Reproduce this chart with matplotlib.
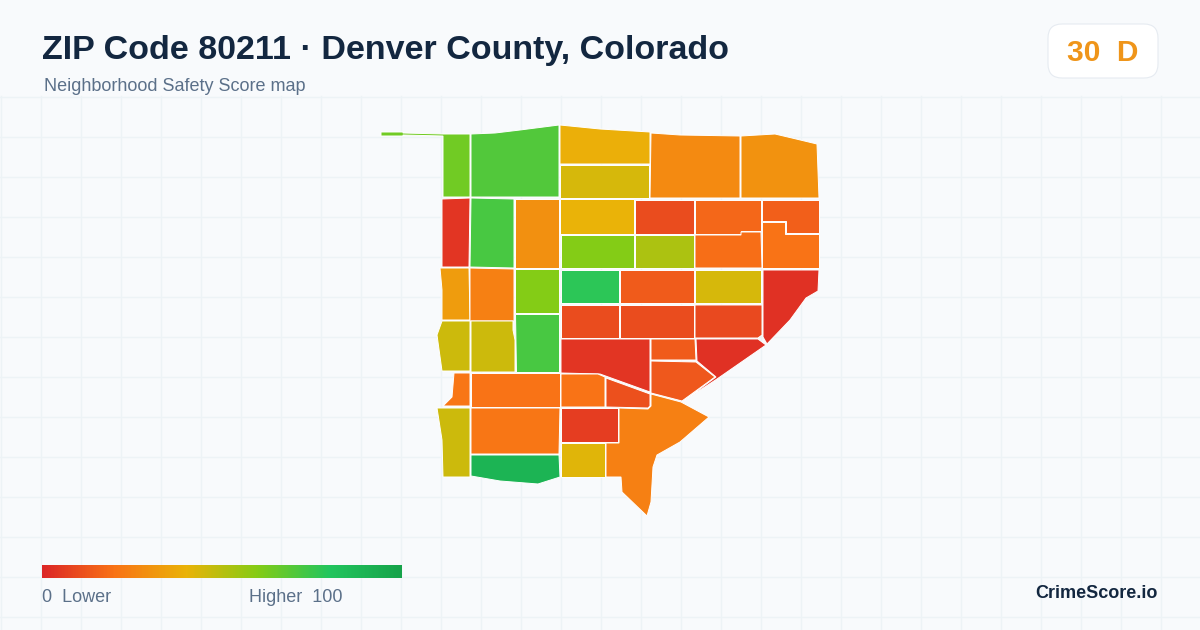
import matplotlib
matplotlib.use('Agg')
import matplotlib.pyplot as plt
import numpy as np
from matplotlib.colors import LinearSegmentedColormap
from matplotlib.patches import FancyBboxPatch, Polygon

plt.rcParams['font.family'] = ['Liberation Sans', 'DejaVu Sans']

title = 'ZIP Code 80211 · Denver County, Colorado'
subtitle = 'Neighborhood Safety Score map'
badge = '30  D'
brand = 'CrimeScore.io'
legend_low = '0  Lower'
legend_high = 'Higher  100'

scale_stops = [0, 0.2, 0.4, 0.6, 0.8, 1]
scale_colors = ['#dc2626', '#f97316', '#eab308', '#84cc16', '#22c55e', '#16a34a']

# block group scores, same order as the outlines below
scores = [64, 70, 39, 44, 27, 30,
          4, 72, 29, 40, 60, 10, 52, 17, 19, 15, 20,
          33, 24, 60, 78, 14, 44, 3,
          10, 10, 9, 46, 46, 72, 4, 14, 13, 3,
          21, 20, 20, 11, 6, 21, 46, 90, 42, 24]

# outlines, in image pixels
outlines = [
    [(381, 132), (403, 132), (403, 133), (443, 134), (470, 134), (470, 197), (443, 197), (443, 136), (403, 135), (403, 136), (381, 136)],
    [(471, 134), (495, 133), (520, 130), (559, 125), (559, 197), (471, 197)],
    [(560, 125), (600, 129), (650, 132), (650, 164), (560, 164)],
    [(560, 165), (649, 165), (649, 198), (560, 198)],
    [(651, 133), (680, 135), (740, 136), (740, 198), (650, 198)],
    [(741, 136), (775, 134), (792, 138), (817, 144), (819, 198), (741, 198)],
    [(442, 199), (470, 198), (469, 267), (442, 267)],
    [(471, 198), (514, 199), (514, 268), (470, 267)],
    [(515, 199), (559, 199), (559, 268), (515, 268)],
    [(560, 199), (634, 199), (634, 234), (560, 234)],
    [(561, 235), (634, 235), (634, 268), (561, 268)],
    [(635, 200), (694, 200), (694, 234), (635, 234)],
    [(635, 235), (694, 235), (694, 268), (635, 268)],
    [(695, 200), (761, 200), (761, 231), (741, 231), (741, 234), (695, 234)],
    [(695, 235), (741, 235), (741, 232), (761, 232), (762, 268), (695, 268)],
    [(762, 200), (819, 200), (819, 233), (786, 233), (786, 221), (762, 221)],
    [(762, 222), (785, 222), (785, 234), (819, 234), (819, 268), (762, 268)],
    [(440, 268), (469, 268), (470, 320), (442, 320), (442, 290)],
    [(470, 268), (514, 269), (514, 321), (470, 321)],
    [(515, 269), (559, 269), (559, 313), (515, 313)],
    [(561, 270), (619, 270), (619, 303), (561, 303)],
    [(620, 270), (694, 270), (694, 303), (620, 303)],
    [(695, 270), (761, 270), (761, 303), (695, 303)],
    [(763, 270), (819, 270), (818, 291), (806, 298), (790, 320), (767, 344), (763, 337)],
    [(561, 305), (619, 305), (619, 338), (561, 338)],
    [(620, 305), (694, 305), (694, 338), (620, 338)],
    [(695, 305), (762, 305), (762, 335), (758, 338), (695, 338)],
    [(442, 321), (470, 321), (470, 371), (442, 371), (437, 335)],
    [(471, 321), (513, 321), (513, 330), (515, 340), (515, 372), (471, 372)],
    [(515, 314), (559, 314), (559, 372), (516, 372)],
    [(561, 339), (650, 339), (650, 392), (600, 374), (561, 373)],
    [(651, 339), (695, 339), (696, 360), (651, 360)],
    [(651, 361), (696, 362), (715, 377), (682, 401), (651, 393)],
    [(696, 339), (758, 339), (766, 345), (717, 379), (682, 402), (716, 377), (697, 361)],
    [(454, 373), (470, 373), (470, 406), (443, 406), (452, 397)],
    [(471, 373), (560, 373), (560, 407), (471, 407)],
    [(561, 374), (598, 374), (605, 377), (605, 407), (561, 407)],
    [(606, 378), (650, 394), (650, 406), (648, 408), (606, 407)],
    [(561, 408), (618, 408), (618, 442), (561, 442)],
    [(471, 408), (560, 408), (559, 454), (471, 454)],
    [(437, 408), (470, 408), (470, 477), (443, 477), (442, 440)],
    [(471, 455), (559, 455), (560, 477), (538, 484), (500, 481), (471, 476)],
    [(561, 443), (605, 443), (605, 477), (561, 477)],
    [(651, 394), (681, 402), (709, 417), (680, 442), (657, 455), (653, 467), (651, 502), (647, 516), (622, 492), (621, 477), (606, 477), (606, 443), (619, 443), (619, 408), (648, 409), (651, 406)],
]

cmap = LinearSegmentedColormap.from_list('safety', list(zip(scale_stops, scale_colors)))

fig = plt.figure(figsize=(12, 6.3), dpi=100, facecolor='#f8fafc')
ax = fig.add_axes([0, 0, 1, 1])
ax.set_xlim(0, 1200)
ax.set_ylim(630, 0)
ax.axis('off')

# background grid, starts below the header
for x in np.arange(0.5, 1200, 40):
    ax.plot([x, x], [96, 630], color='#edf3f6', lw=1, zorder=1)
for y in np.arange(96.5, 630, 40):
    ax.plot([0, 1200], [y, y], color='#edf3f6', lw=1, zorder=1)

for score, outline in zip(scores, outlines):
    ax.add_patch(Polygon(outline, closed=True, facecolor=cmap(score / 100),
                         edgecolor='white', lw=0.7, zorder=2))

ax.text(42, 50.5, title, fontsize=24.5, fontweight='bold', color='#132740', va='center', zorder=5)
ax.text(44, 86.5, subtitle, fontsize=12.95, color='#5b7089', va='center', zorder=5)

ax.add_patch(FancyBboxPatch((1062, 38), 82, 26, boxstyle='round,pad=14,rounding_size=14',
                            facecolor='white', edgecolor='#e6ebf1', lw=0.8, zorder=4))
ax.text(1103, 53, badge, fontsize=21.5, fontweight='bold', color='#ef951a',
        ha='center', va='center', zorder=5)

# legend bar
gradient = np.linspace(0, 1, 360).reshape(1, -1)
ax.imshow(gradient, cmap=cmap, extent=(42, 402, 578, 565), aspect='auto', zorder=3)
ax.set_xlim(0, 1200)
ax.set_ylim(630, 0)
ax.text(42, 598, legend_low, fontsize=12.95, color='#5b7089', va='center', zorder=5)
ax.text(249, 598, legend_high, fontsize=12.95, color='#5b7089', va='center', zorder=5)
ax.text(1158, 594, brand, fontsize=13, fontweight='bold', color='#132740',
        ha='right', va='center', zorder=5)

fig.savefig('out.png', dpi=100, facecolor=fig.get_facecolor())
